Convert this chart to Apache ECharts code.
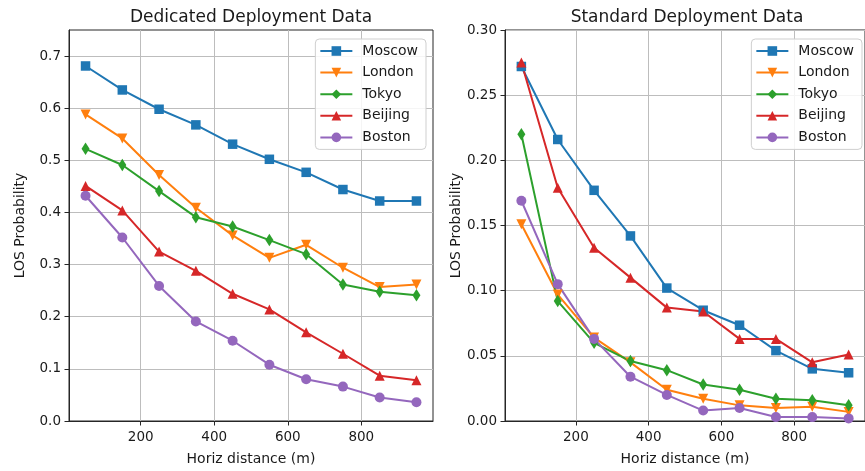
<!DOCTYPE html>
<html>
<head>
<meta charset="utf-8">
<script src="https://cdn.jsdelivr.net/npm/echarts@6/dist/echarts.min.js"></script>
<style>
  html, body { margin: 0; padding: 0; background: #fff; }
  #chart { width: 865px; height: 471px; }
</style>
</head>
<body>
<div id="chart"></div>
<script>
// Horizontal distance bins (m)
const distances = [50, 150, 250, 350, 450, 550, 650, 750, 850, 950];
const cities = ['Moscow', 'London', 'Tokyo', 'Beijing', 'Boston'];

// LOS probability, dedicated deployment
const dedMoscow  = [0.681, 0.635, 0.598, 0.568, 0.531, 0.502, 0.477, 0.444, 0.422, 0.422];
const dedLondon  = [0.588, 0.542, 0.472, 0.409, 0.356, 0.313, 0.338, 0.294, 0.257, 0.262];
const dedTokyo   = [0.522, 0.491, 0.441, 0.391, 0.373, 0.347, 0.320, 0.262, 0.248, 0.241];
const dedBeijing = [0.451, 0.404, 0.325, 0.288, 0.244, 0.214, 0.170, 0.129, 0.087, 0.078];
const dedBoston  = [0.432, 0.352, 0.259, 0.191, 0.154, 0.108, 0.080, 0.066, 0.045, 0.036];

// LOS probability, standard deployment
const stdMoscow  = [0.272, 0.216, 0.177, 0.142, 0.102, 0.085, 0.0735, 0.054, 0.040, 0.037];
const stdLondon  = [0.151, 0.097, 0.064, 0.045, 0.024, 0.017, 0.012, 0.010, 0.011, 0.007];
const stdTokyo   = [0.220, 0.092, 0.060, 0.046, 0.039, 0.028, 0.024, 0.017, 0.016, 0.012];
const stdBeijing = [0.275, 0.179, 0.133, 0.110, 0.087, 0.084, 0.063, 0.063, 0.045, 0.051];
const stdBoston  = [0.169, 0.105, 0.063, 0.034, 0.020, 0.008, 0.010, 0.003, 0.003, 0.002];

// Tick values
const xTicks = [200, 400, 600, 800];
const dedYTicks = [0, 0.1, 0.2, 0.3, 0.4, 0.5, 0.6, 0.7];
const stdYTicks = [0, 0.05, 0.10, 0.15, 0.20, 0.25, 0.30];

const titles = ['Dedicated Deployment Data', 'Standard Deployment Data'];
const xName = 'Horiz distance (m)';
const yName = 'LOS Probability';

// Per-city line style: colour and marker
const styles = {
  Moscow:  { color: '#1f77b4', symbol: 'rect', size: 9.5, rotate: 0 },
  London:  { color: '#ff7f0e', symbol: 'triangle', size: 10, rotate: 180 },
  Tokyo:   { color: '#2ca02c', symbol: 'diamond', size: [8, 12.5], rotate: 0 },
  Beijing: { color: '#d62728', symbol: 'triangle', size: 10, rotate: 0 },
  Boston:  { color: '#9467bd', symbol: 'circle', size: 10, rotate: 0 }
};

const FONT = 'DejaVu Sans';
const TEXT = '#1a1a1a';
const SPINE = '#262626';

function pairs(values) {
  return distances.map((d, i) => [d, values[i]]);
}

function makeSeries(name, values, idx) {
  const s = styles[name];
  return {
    type: 'line',
    name: name,
    xAxisIndex: idx,
    yAxisIndex: idx,
    data: pairs(values),
    symbol: s.symbol,
    symbolSize: s.size,
    symbolRotate: s.rotate,
    showAllSymbol: true,
    lineStyle: { color: s.color, width: 2 },
    itemStyle: { color: s.color, borderWidth: 0 },
    emphasis: { disabled: true },
    z: 3
  };
}

function xAxis(idx) {
  return {
    type: 'value',
    gridIndex: idx,
    min: 5,
    max: 995,
    name: xName,
    nameLocation: 'middle',
    nameGap: 31,
    nameTextStyle: { fontFamily: FONT, fontSize: 14, color: TEXT },
    axisLine: { show: true, lineStyle: { color: SPINE, width: 1 } },
    axisTick: { show: true, length: 4.5, customValues: xTicks, lineStyle: { color: SPINE, width: 1 } },
    axisLabel: { customValues: xTicks, margin: 9, fontFamily: FONT, fontSize: 13.5, color: TEXT },
    splitLine: { show: true, lineStyle: { color: '#bdbdbd', width: 1 } }
  };
}

function yAxis(idx, max, ticks, digits) {
  return {
    type: 'value',
    gridIndex: idx,
    min: 0,
    max: max,
    name: yName,
    nameLocation: 'middle',
    nameGap: 42,
    nameRotate: 90,
    nameTextStyle: { fontFamily: FONT, fontSize: 14, color: TEXT },
    axisLine: { show: true, lineStyle: { color: SPINE, width: 1 } },
    axisTick: { show: true, length: 4.5, customValues: ticks, lineStyle: { color: SPINE, width: 1 } },
    axisLabel: {
      customValues: ticks,
      margin: 8,
      fontFamily: FONT, fontSize: 13.5, color: TEXT,
      formatter: v => Number(v).toFixed(digits)
    },
    splitLine: { show: true, lineStyle: { color: '#bdbdbd', width: 1 } }
  };
}

function legend(right) {
  return {
    data: cities,
    orient: 'vertical',
    right: right,
    top: 39,
    itemWidth: 32,
    itemHeight: 12,
    itemGap: 5.6,
    padding: [4, 8, 4, 4],
    backgroundColor: 'rgba(255,255,255,0.85)',
    borderColor: '#cfcfcf',
    borderWidth: 1,
    borderRadius: 4,
    selectedMode: false,
    textStyle: { fontFamily: FONT, fontSize: 14, color: TEXT, lineHeight: 16, padding: [0, 0, 0, 5] }
  };
}

const chart = echarts.init(document.getElementById('chart'), null, { renderer: 'canvas' });

chart.setOption({
  animation: false,
  backgroundColor: '#ffffff',
  textStyle: { fontFamily: FONT },
  grid: [
    { left: 69, top: 30, width: 364, height: 392, show: true, borderColor: SPINE, borderWidth: 1, backgroundColor: 'transparent' },
    { left: 505, top: 30, width: 364, height: 392, show: true, borderColor: SPINE, borderWidth: 1, backgroundColor: 'transparent' }
  ],
  xAxis: [xAxis(0), xAxis(1)],
  yAxis: [
    yAxis(0, 0.75, dedYTicks, 1),
    yAxis(1, 0.30, stdYTicks, 2)
  ],
  legend: [legend(439), legend(3)],
  graphic: [
    { type: 'text', x: 251, y: 17.5, style: { text: titles[0], align: 'center', verticalAlign: 'middle', fontFamily: FONT, fontSize: 17, fill: TEXT } },
    { type: 'text', x: 687, y: 17.5, style: { text: titles[1], align: 'center', verticalAlign: 'middle', fontFamily: FONT, fontSize: 17, fill: TEXT } }
  ],
  series: [
    makeSeries('Moscow', dedMoscow, 0),
    makeSeries('London', dedLondon, 0),
    makeSeries('Tokyo', dedTokyo, 0),
    makeSeries('Beijing', dedBeijing, 0),
    makeSeries('Boston', dedBoston, 0),
    makeSeries('Moscow', stdMoscow, 1),
    makeSeries('London', stdLondon, 1),
    makeSeries('Tokyo', stdTokyo, 1),
    makeSeries('Beijing', stdBeijing, 1),
    makeSeries('Boston', stdBoston, 1)
  ]
});
</script>
</body>
</html>
